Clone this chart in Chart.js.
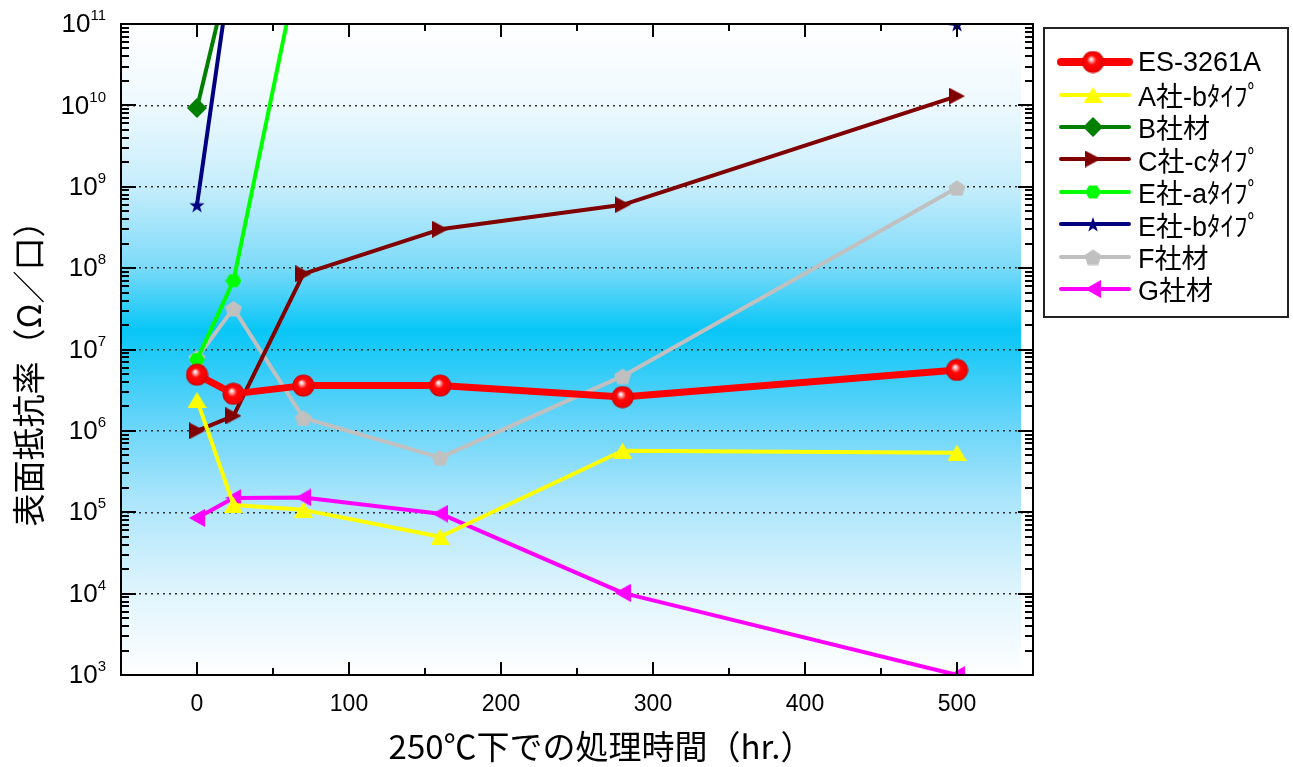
<!DOCTYPE html>
<html lang="ja">
<head>
<meta charset="utf-8">
<title>表面抵抗率</title>
<script src="https://cdn.jsdelivr.net/npm/chart.js@4.4.1/dist/chart.umd.min.js"></script>
<style>
    html, body { margin: 0; padding: 0; background: #fff; }
    #wrap { position: relative; width: 1293px; height: 767px; }
    #legend {
        position: absolute; left: 1043px; top: 27px;
        width: 242px; height: 270px; padding-top: 17px;
        border: 2px solid #222; background: #fff;
    }
    .item { display: flex; align-items: center; height: 32.4px; }
    .item canvas { margin-left: 12px; margin-right: 5px; }
    .item span { font: 27px "Liberation Sans", "Noto Sans CJK JP", sans-serif; color: #000; white-space: nowrap; }
</style>
</head>
<body>
<div id="wrap">
    <canvas id="resistChart" width="1293" height="767"></canvas>
    <div id="legend"></div>
</div>
<script>
const hours = [0, 24, 70, 160, 280, 500];
const seriesNames = ["ES-3261A", "A社-bﾀｲﾌﾟ", "B社材", "C社-cﾀｲﾌﾟ", "E社-aﾀｲﾌﾟ", "E社-bﾀｲﾌﾟ", "F社材", "G社材"];
const es3261a   = [4.9e6, 2.85e6, 3.6e6, 3.6e6, 2.6e6, 5.6e6];
const companyAb = [2.4e6, 1.23e5, 1.07e5, 5.0e4, 5.7e5, 5.4e5];
const companyB  = [9.3e9, 7e11, null, null, null, null];
const companyCc = [1.0e6, 1.53e6, 8.5e7, 3.0e8, 6.0e8, 1.3e10];
const companyEa = [7.5e6, 7e7, 1e12, null, null, null];
const companyEb = [6.0e8, 8e11, null, null, null, 1e11];
const companyF  = [7.9e6, 3.2e7, 1.44e6, 4.7e5, 4.7e6, 9.7e8];
const companyG  = [8.5e4, 1.5e5, 1.52e5, 9.6e4, 1.02e4, 1.0e3];
const xTickValues = [0, 100, 200, 300, 400, 500];
const yTickExponents = [3, 4, 5, 6, 7, 8, 9, 10, 11];
const xTitle = "250℃下での処理時間（hr.）";
const yTitle = "表面抵抗率（Ω／口）";

const latinFont = '"Liberation Sans", "Noto Sans CJK JP", sans-serif';
const cjkFont = '"Noto Sans CJK JP", "Liberation Sans", sans-serif';

function polygon(g, pts) {
    g.beginPath();
    pts.forEach(([px, py], i) => (i ? g.lineTo(px, py) : g.moveTo(px, py)));
    g.closePath();
    g.fill();
}

// marker glyphs drawn once into small canvases, used as pointStyle
function makeMarker(shape, color, w, h) {
    const c = document.createElement("canvas");
    c.width = w;
    c.height = h;
    const g = c.getContext("2d");
    const cx = w / 2, cy = h / 2;
    g.fillStyle = color;
    if (shape === "sphere") {
        const r = w / 2 - 0.5;
        const grad = g.createRadialGradient(cx - 2, cy - 3, 0.5, cx, cy, r);
        grad.addColorStop(0, "#ffffff");
        grad.addColorStop(0.2, "#ff8080");
        grad.addColorStop(0.4, "#ff0808");
        grad.addColorStop(0.85, "#f40000");
        grad.addColorStop(1, "#c00000");
        g.fillStyle = grad;
        g.beginPath();
        g.arc(cx, cy, r, 0, Math.PI * 2);
        g.fill();
    } else if (shape === "up") {
        polygon(g, [[cx, 0], [w, h], [0, h]]);
    } else if (shape === "right") {
        polygon(g, [[0, 0], [w, cy], [0, h]]);
    } else if (shape === "left") {
        polygon(g, [[w, 0], [0, cy], [w, h]]);
    } else if (shape === "diamond") {
        polygon(g, [[cx, 0], [w, cy], [cx, h], [0, cy]]);
    } else if (shape === "star") {
        const pts = [];
        for (let i = 0; i < 10; i++) {
            const r = i % 2 ? w * 0.2 : w / 2;
            const a = -Math.PI / 2 + i * Math.PI / 5;
            pts.push([cx + r * Math.cos(a), cy + 1 + r * Math.sin(a)]);
        }
        polygon(g, pts);
    } else if (shape === "hexagon") {
        const pts = [];
        for (let i = 0; i < 6; i++) {
            const a = i * Math.PI / 3;
            pts.push([cx + (w / 2) * Math.cos(a), cy + (h / 2) * Math.sin(a)]);
        }
        polygon(g, pts);
    } else if (shape === "pentagon") {
        const pts = [];
        for (let i = 0; i < 5; i++) {
            const a = -Math.PI / 2 + i * 2 * Math.PI / 5;
            pts.push([cx + (w / 2) * Math.cos(a), cy + 1 + (h / 2) * Math.sin(a)]);
        }
        polygon(g, pts);
    }
    return c;
}

const seriesValues = [es3261a, companyAb, companyB, companyCc, companyEa, companyEb, companyF, companyG];
const seriesColors = ["#ff0000", "#ffff00", "#007f00", "#800000", "#00ff00", "#000080", "#c0c0c0", "#ff00ff"];
const seriesWidths = [7, 4, 4, 4, 4, 4, 4, 4];
const seriesMarkers = [
    makeMarker("sphere", "#ff0000", 23, 23),
    makeMarker("up", "#ffff00", 19, 16),
    makeMarker("diamond", "#007f00", 20, 20),
    makeMarker("right", "#800000", 16, 17),
    makeMarker("hexagon", "#00ff00", 16, 15),
    makeMarker("star", "#000080", 16, 16),
    makeMarker("pentagon", "#c0c0c0", 18, 17),
    makeMarker("left", "#ff00ff", 16, 18),
];

const datasets = seriesNames.map((name, i) => ({
    label: name,
    data: hours
        .map((h, j) => ({ x: h, y: seriesValues[i][j] }))
        .filter((p) => p.y !== null),
    borderColor: seriesColors[i],
    backgroundColor: seriesColors[i],
    borderWidth: seriesWidths[i],
    borderCapStyle: "round",
    borderJoinStyle: "round",
    pointStyle: seriesMarkers[i],
    pointRadius: 8,
    pointHoverRadius: 8,
    tension: 0,
}));

const plotBackground = {
    id: "plotBackground",
    beforeDraw(chart) {
        const { ctx, chartArea: a } = chart;
        const grad = ctx.createLinearGradient(0, a.top, 0, a.bottom);
        grad.addColorStop(0, "#ffffff");
        grad.addColorStop(0.12, "#eef9fe");
        grad.addColorStop(0.25, "#c6edfc");
        grad.addColorStop(0.37, "#7fdbf9");
        grad.addColorStop(0.47, "#08c6f7");
        grad.addColorStop(0.6, "#5fd3f9");
        grad.addColorStop(0.73, "#abe5fb");
        grad.addColorStop(0.87, "#def4fd");
        grad.addColorStop(1, "#ffffff");
        ctx.save();
        ctx.fillStyle = grad;
        ctx.fillRect(a.left, a.top, a.right - a.left - 12, a.bottom - a.top);
        ctx.restore();
    },
};

const frameAndLabels = {
    id: "frameAndLabels",
    afterDraw(chart) {
        const { ctx, chartArea: a, scales: { x, y } } = chart;
        const seg = (x1, y1, x2, y2) => {
            ctx.beginPath();
            ctx.moveTo(x1, y1);
            ctx.lineTo(x2, y2);
            ctx.stroke();
        };
        ctx.save();
        ctx.strokeStyle = "#000";
        ctx.lineWidth = 2;

        // inward tick marks on all four sides
        for (let v = x.min; v <= x.max; v += 50) {
            const px = Math.round(x.getPixelForValue(v));
            const len = v % 100 === 0 ? 13 : 7;
            seg(px, a.bottom, px, a.bottom - len);
            seg(px, a.top, px, a.top + len);
        }
        for (let e = yTickExponents[0]; e <= yTickExponents[yTickExponents.length - 1]; e++) {
            for (let m = 1; m <= 9; m++) {
                const v = m * Math.pow(10, e);
                if (v > y.max) break;
                const py = Math.round(y.getPixelForValue(v));
                const len = m === 1 ? 15 : 8;
                seg(a.left, py, a.left + len, py);
                seg(a.right, py, a.right - len, py);
            }
        }
        ctx.strokeRect(a.left, a.top, a.right - a.left, a.bottom - a.top);

        // y tick labels as 10 with a raised exponent
        ctx.fillStyle = "#000";
        ctx.textBaseline = "middle";
        const labelRight = a.left - 15;
        yTickExponents.forEach((e) => {
            const py = y.getPixelForValue(Math.pow(10, e));
            ctx.font = "15px " + latinFont;
            const ew = ctx.measureText(String(e)).width;
            ctx.textAlign = "left";
            ctx.fillText(String(e), labelRight - ew, py - 8);
            ctx.font = "26px " + latinFont;
            ctx.textAlign = "right";
            ctx.fillText("10", labelRight - ew, py + 1);
        });

        // axis titles
        ctx.font = "33px " + cjkFont;
        ctx.textAlign = "center";
        ctx.fillText(xTitle, (a.left + a.right) / 2 + 24, 746);
        ctx.translate(28, (a.top + a.bottom) / 2 + 16);
        ctx.rotate(-Math.PI / 2);
        ctx.fillText(yTitle, 0, 0);
        ctx.restore();
    },
};

const ctx = document.getElementById("resistChart").getContext("2d");
const resistChart = new Chart(ctx, {
    type: "line",
    data: { datasets: datasets },
    options: {
        responsive: false,
        animation: false,
        layout: { padding: { left: 0, top: 24, right: 260, bottom: 0 } },
        plugins: {
            legend: { display: false },
            tooltip: { enabled: false },
        },
        scales: {
            x: {
                type: "linear",
                min: -50,
                max: 550,
                afterBuildTicks: (scale) => {
                    scale.ticks = xTickValues.map((v) => ({ value: v }));
                },
                afterFit: (scale) => {
                    scale.height = 92;
                },
                grid: { display: false, drawTicks: false },
                border: { display: false },
                ticks: {
                    color: "#000",
                    font: { size: 23, family: latinFont },
                    padding: 16,
                    maxRotation: 0,
                    autoSkip: false,
                },
            },
            y: {
                type: "logarithmic",
                min: 1e3,
                max: 1e11,
                afterBuildTicks: (scale) => {
                    scale.ticks = yTickExponents.map((e) => ({ value: Math.pow(10, e) }));
                },
                afterFit: (scale) => {
                    scale.width = 121;
                },
                grid: { color: "#333", lineWidth: 1.5, drawTicks: false },
                border: { display: false, dash: [2, 4] },
                ticks: { display: false },
            },
        },
    },
    plugins: [plotBackground, frameAndLabels],
});

// legend: line sample with its marker, then the name
const legendBox = document.getElementById("legend");
seriesNames.forEach((name, i) => {
    const row = document.createElement("div");
    row.className = "item";
    const sample = document.createElement("canvas");
    sample.width = 76;
    sample.height = 26;
    const g = sample.getContext("2d");
    g.strokeStyle = seriesColors[i];
    g.lineWidth = i === 0 ? 8 : 4;
    g.lineCap = "round";
    g.beginPath();
    g.moveTo(4, 13);
    g.lineTo(72, 13);
    g.stroke();
    const mk = seriesMarkers[i];
    g.drawImage(mk, 36 - mk.width / 2, 13 - mk.height / 2);
    const label = document.createElement("span");
    label.textContent = name;
    row.appendChild(sample);
    row.appendChild(label);
    legendBox.appendChild(row);
});
</script>
</body>
</html>
